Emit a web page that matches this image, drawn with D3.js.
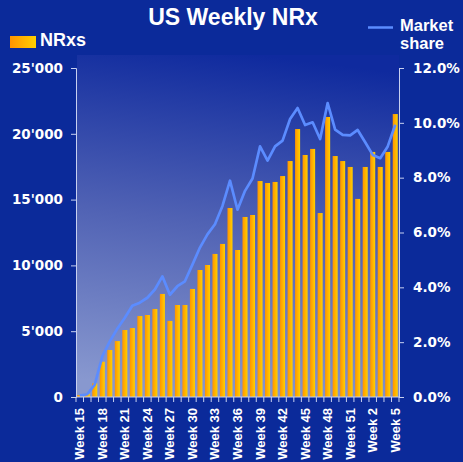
<!DOCTYPE html>
<html>
<head>
<meta charset="utf-8">
<script src="https://cdn.jsdelivr.net/npm/d3@7"></script>
<style>
  html, body { margin: 0; padding: 0; background: #0b2a9a; }
  svg { display: block; font-family: "Liberation Sans", Arial, sans-serif; font-weight: bold; }
</style>
</head>
<body>
<svg id="chart" width="463" height="462"></svg>
<script>
// weeks 15..52 then 1..5
const weeks = ["Week 15","Week 16","Week 17","Week 18","Week 19","Week 20","Week 21","Week 22","Week 23","Week 24",
  "Week 25","Week 26","Week 27","Week 28","Week 29","Week 30","Week 31","Week 32","Week 33","Week 34",
  "Week 35","Week 36","Week 37","Week 38","Week 39","Week 40","Week 41","Week 42","Week 43","Week 44",
  "Week 45","Week 46","Week 47","Week 48","Week 49","Week 50","Week 51","Week 52","Week 1","Week 2",
  "Week 3","Week 4","Week 5"];

const nrxs = [150, 250, 1040, 2680, 3570, 4250, 5090, 5240, 6150, 6230,
  6690, 7830, 5780, 6990, 6990, 8210, 9650, 10030, 10870, 11630,
  14360, 11170, 13680, 13830, 16410, 16260, 16340, 16790, 17930, 20360,
  18390, 18850, 13980, 21280, 18310, 17930, 17480, 15050, 17480, 18620,
  17480, 18620, 21500];

const marketShare = [0.05, 0.1, 0.45, 1.48, 2.03, 2.49, 2.89, 3.33, 3.44, 3.62,
  3.92, 4.40, 3.73, 4.04, 4.22, 4.83, 5.45, 5.93, 6.30, 6.97,
  7.89, 6.83, 7.52, 7.97, 9.14, 8.62, 9.14, 9.35, 10.14, 10.54,
  9.92, 10.02, 9.41, 10.72, 9.75, 9.56, 9.54, 9.74, 9.29, 8.83,
  8.71, 9.14, 9.93];

const leftTicks = [0, 5000, 10000, 15000, 20000, 25000];
const rightTicks = [0, 2, 4, 6, 8, 10, 12];
const shownWeeks = ["Week 15","Week 18","Week 21","Week 24","Week 27","Week 30","Week 33","Week 36",
  "Week 39","Week 42","Week 45","Week 48","Week 51","Week 2","Week 5"];

const svg = d3.select("#chart");
const mLeft = 76, mRight = 399, mTop = 68, mBottom = 397;
const axisColor = "#c8d0f0";

const defs = svg.append("defs");
const bgGrad = defs.append("linearGradient").attr("id", "bg")
  .attr("x1", "0.56").attr("y1", "0").attr("x2", "0.44").attr("y2", "1");
bgGrad.append("stop").attr("offset", "0").attr("stop-color", "#0f2a9e");
bgGrad.append("stop").attr("offset", "0.5").attr("stop-color", "#5062b4");
bgGrad.append("stop").attr("offset", "1").attr("stop-color", "#8898cf");

const barGrad = defs.append("linearGradient").attr("id", "bar")
  .attr("x1", "0").attr("y1", "0").attr("x2", "1").attr("y2", "0");
barGrad.append("stop").attr("offset", "0").attr("stop-color", "#ff9400");
barGrad.append("stop").attr("offset", "1").attr("stop-color", "#ffd000");

const x = d3.scaleBand().domain(weeks).range([mLeft, mRight]).paddingInner(0.33).paddingOuter(0.165);
const yL = d3.scaleLinear().domain([0, 25000]).range([mBottom, mTop]);
const yR = d3.scaleLinear().domain([0, 12]).range([mBottom, mTop]);

// plot background
svg.append("rect")
  .attr("x", mLeft + 1).attr("y", mTop - 13)
  .attr("width", mRight - mLeft - 1).attr("height", mBottom - mTop + 13)
  .attr("fill", "url(#bg)");

// bars
svg.append("g").selectAll("rect")
  .data(nrxs)
  .enter().append("rect")
  .attr("x", (d, i) => x(weeks[i]))
  .attr("y", d => yL(d))
  .attr("width", x.bandwidth())
  .attr("height", d => mBottom - yL(d))
  .attr("fill", "url(#bar)");

// market share line
const line = d3.line()
  .x((d, i) => x(weeks[i]) + x.bandwidth() / 2)
  .y(d => yR(d));
svg.append("path")
  .datum(marketShare)
  .attr("d", line)
  .attr("fill", "none")
  .attr("stroke", "#5b8cff")
  .attr("stroke-width", 2.7)
  .attr("stroke-linejoin", "round");

// axes
const loc = d3.formatLocale({ decimal: ".", thousands: "'", grouping: [3], currency: ["", ""] });
const fmtL = loc.format(",");

const axL = svg.append("g").attr("transform", "translate(" + mLeft + ",0)")
  .call(d3.axisLeft(yL).tickValues(leftTicks).tickFormat(fmtL).tickSize(5).tickPadding(8));
const axR = svg.append("g").attr("transform", "translate(" + mRight + ",0)")
  .call(d3.axisRight(yR).tickValues(rightTicks).tickFormat(d => d.toFixed(1) + "%").tickSize(5).tickPadding(9));

const bandStep = x.step();
const axB = svg.append("g").attr("transform", "translate(0," + mBottom + ")");
axB.append("line").attr("x1", mLeft).attr("x2", mRight).attr("stroke", axisColor);
axB.selectAll("line.tick")
  .data(weeks.concat(["end"]))
  .enter().append("line")
  .attr("class", "tick")
  .attr("x1", (d, i) => mLeft + i * bandStep)
  .attr("x2", (d, i) => mLeft + i * bandStep)
  .attr("y1", 0).attr("y2", 5)
  .attr("stroke", axisColor);
axB.selectAll("text")
  .data(shownWeeks)
  .enter().append("text")
  .attr("transform", d => "translate(" + (x(d) + x.bandwidth() / 2 + 4.5) + ",11) rotate(-90)")
  .attr("text-anchor", "end")
  .attr("fill", "#fff")
  .attr("font-size", 13)
  .text(d => d);

[axL, axR].forEach(ax => {
  ax.select(".domain").attr("stroke", axisColor);
  ax.selectAll(".tick line").attr("stroke", axisColor);
  ax.selectAll(".tick text").attr("fill", "#fff").attr("font-size", 13.5)
    .attr("font-family", "DejaVu Sans, Verdana, sans-serif").attr("font-weight", "bold");
});

// title
svg.append("text").attr("x", 233).attr("y", 25).attr("text-anchor", "middle")
  .attr("fill", "#fff").attr("font-size", 23).text("US Weekly NRx");

// legend
svg.append("rect").attr("x", 10).attr("y", 36).attr("width", 26).attr("height", 12).attr("fill", "url(#bar)");
svg.append("text").attr("x", 40).attr("y", 46).attr("fill", "#fff").attr("font-size", 18).text("NRxs");
svg.append("line").attr("x1", 368).attr("x2", 393).attr("y1", 27.5).attr("y2", 27.5)
  .attr("stroke", "#5b8cff").attr("stroke-width", 2.5);
svg.append("text").attr("x", 400).attr("y", 31).attr("fill", "#fff").attr("font-size", 16.5).text("Market");
svg.append("text").attr("x", 400).attr("y", 49).attr("fill", "#fff").attr("font-size", 16.5).text("share");
</script>
</body>
</html>
